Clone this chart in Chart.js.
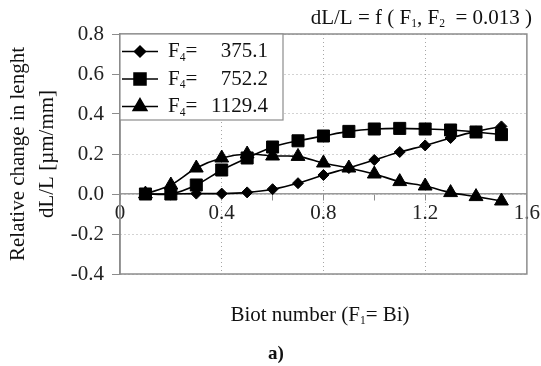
<!DOCTYPE html>
<html>
<head>
<meta charset="utf-8">
<script src="https://cdn.jsdelivr.net/npm/chart.js@4.4.1/dist/chart.umd.min.js"></script>
<style>
  html, body { margin: 0; padding: 0; background: #fff; }
  #wrap { width: 541px; height: 366px; }
</style>
</head>
<body>
<div id="wrap"><canvas id="dlChart" width="541" height="366"></canvas></div>
<script>
// Biot number (F1 = Bi)
const bi = [0.1, 0.2, 0.3, 0.4, 0.5, 0.6, 0.7, 0.8, 0.9, 1.0, 1.1, 1.2, 1.3, 1.4, 1.5];
// F4 values of the three series
const f4Labels = ['375.1', '752.2', '1129.4'];
// dL/L [um/mm]
const dl375 = [0, 0, 0.002, 0.002, 0.008, 0.024, 0.054, 0.095, 0.13, 0.17, 0.21, 0.243, 0.28, 0.313, 0.338];
const dl752 = [0, 0, 0.045, 0.12, 0.18, 0.235, 0.266, 0.29, 0.313, 0.325, 0.328, 0.325, 0.32, 0.31, 0.297];
const dl1129 = [0, 0.045, 0.13, 0.18, 0.2, 0.19, 0.188, 0.155, 0.13, 0.1, 0.062, 0.04, 0.007, -0.013, -0.035];

const FONT = "'Liberation Serif', 'Times New Roman', serif";

function toPoints(values) {
    return bi.map((x, i) => ({ x: x, y: values[i] }));
}

// draws text made of normal and subscript parts
function drawSubText(ctx, parts, x, y, size, align) {
    let total = 0;
    parts.forEach(p => {
        ctx.font = (p[1] ? size * 0.55 : size) + 'px ' + FONT;
        total += ctx.measureText(p[0]).width;
    });
    let cx = align === 'right' ? x - total : align === 'center' ? x - total / 2 : x;
    ctx.textAlign = 'left';
    ctx.textBaseline = 'middle';
    parts.forEach(p => {
        ctx.font = (p[1] ? size * 0.55 : size) + 'px ' + FONT;
        ctx.fillText(p[0], cx, p[1] ? y + size * 0.3 : y);
        cx += ctx.measureText(p[0]).width;
    });
}

const extras = {
    id: 'extras',
    afterDraw(chart) {
        const ctx = chart.ctx;
        const a = chart.chartArea;
        ctx.save();
        // plot frame
        ctx.strokeStyle = '#8c8c8c';
        ctx.lineWidth = 1.5;
        ctx.strokeRect(a.left, a.top, a.right - a.left, a.bottom - a.top);

        // legend box
        const lx = a.left, ly = a.top, lw = 163, lh = 86;
        ctx.fillStyle = '#fff';
        ctx.fillRect(lx, ly, lw, lh);
        ctx.strokeStyle = '#8c8c8c';
        ctx.lineWidth = 1.2;
        ctx.strokeRect(lx, ly, lw, lh);
        chart.data.datasets.forEach((ds, i) => {
            const ry = ly + 17.5 + i * 27.5;
            ctx.strokeStyle = '#000';
            ctx.lineWidth = 1.5;
            ctx.beginPath();
            ctx.moveTo(lx + 2, ry);
            ctx.lineTo(lx + 38, ry);
            ctx.stroke();
            ctx.fillStyle = '#000';
            Chart.helpers.drawPoint(ctx, { pointStyle: ds.pointStyle, radius: ds.pointRadius, borderWidth: 1 }, lx + 20, ry);
            ctx.fillStyle = '#111';
            drawSubText(ctx, [['F', 0], ['4', 1], ['=', 0]], lx + 48, ry, 21, 'left');
            ctx.font = '21px ' + FONT;
            ctx.textAlign = 'right';
            ctx.fillText(f4Labels[i], lx + 148, ry);
        });

        // titles
        ctx.fillStyle = '#111';
        drawSubText(ctx, [['dL/L = f ( F', 0], ['1', 1], [', F', 0], ['2', 1], ['  = 0.013 )', 0]], 532, 18, 21, 'right');
        drawSubText(ctx, [['Biot number (F', 0], ['1', 1], ['= Bi)', 0]], 320, 315, 21, 'center');
        ctx.font = 'bold 19px ' + FONT;
        ctx.textAlign = 'center';
        ctx.textBaseline = 'middle';
        ctx.fillText('a)', 276, 354);
        ctx.restore();
    }
};

function isMajor(v) {
    const r = v / 0.4;
    return Math.abs(r - Math.round(r)) < 1e-6;
}

const ctx = document.getElementById('dlChart').getContext('2d');
new Chart(ctx, {
    type: 'line',
    data: {
        datasets: [{
            label: 'F4 = ' + f4Labels[0],
            data: toPoints(dl375),
            pointStyle: 'rectRot',
            pointRadius: 5.5
        }, {
            label: 'F4 = ' + f4Labels[1],
            data: toPoints(dl752),
            pointStyle: 'rect',
            pointRadius: 8.5
        }, {
            label: 'F4 = ' + f4Labels[2],
            data: toPoints(dl1129),
            pointStyle: 'triangle',
            pointRadius: 8
        }].map(ds => Object.assign(ds, {
            borderColor: '#000',
            backgroundColor: '#000',
            borderWidth: 1.6,
            pointBorderWidth: 1,
            tension: 0.3
        }))
    },
    options: {
        responsive: false,
        animation: false,
        layout: { padding: { top: 34, right: 13, bottom: 92, left: 0 } },
        plugins: {
            legend: { display: false },
            tooltip: { enabled: false }
        },
        scales: {
            x: {
                type: 'linear',
                position: { y: 0 },
                min: 0,
                max: 1.6,
                ticks: {
                    stepSize: 0.2,
                    autoSkip: false,
                    maxRotation: 0,
                    padding: 1,
                    color: '#222',
                    font: { family: FONT, size: 21 },
                    callback: v => isMajor(v) ? (Math.abs(v) < 1e-9 ? '0' : v.toFixed(1)) : ''
                },
                grid: {
                    color: c => (c.tick && isMajor(c.tick.value) && c.tick.value > 0.01 && c.tick.value < 1.59) ? '#a6a6a6' : 'rgba(0,0,0,0)',
                    tickColor: '#8c8c8c',
                    tickLength: 6,
                    lineWidth: 1
                },
                border: { color: '#9a9a9a', width: 1.5, dash: [1, 3] }
            },
            y: {
                min: -0.4,
                max: 0.8,
                ticks: {
                    stepSize: 0.2,
                    padding: 8,
                    color: '#222',
                    font: { family: FONT, size: 21 },
                    callback: v => Math.abs(v) < 1e-9 ? '0.0' : v.toFixed(1)
                },
                grid: {
                    color: '#a6a6a6',
                    tickColor: '#8c8c8c',
                    tickLength: 8,
                    lineWidth: 1
                },
                border: { color: '#8c8c8c', width: 1.5, dash: [1, 3] },
                title: {
                    display: true,
                    text: ['Relative change in lenght', 'dL/L [\u00b5m/mm]'],
                    color: '#111',
                    font: { family: FONT, size: 21, lineHeight: 1.4 },
                    padding: { top: 3.5, bottom: 0 }
                },
                afterFit: scale => { scale.width = 120; }
            }
        }
    },
    plugins: [extras]
});
</script>
</body>
</html>
